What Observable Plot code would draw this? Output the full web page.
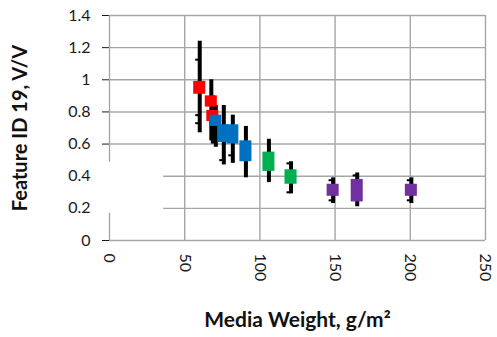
<!DOCTYPE html>
<html>
<head>
<meta charset="utf-8">
<script src="https://cdn.jsdelivr.net/npm/d3@7"></script>
<script src="https://cdn.jsdelivr.net/npm/@observablehq/plot@0.6"></script>
<style>
  html, body { margin: 0; padding: 0; background: #fff; }
  svg { display: block; }
</style>
</head>
<body>
<div id="chart"></div>
<script>
// Media weight (g/m²) of each sample group
const weights   = [60, 67.7, 68.7, 70.7, 76, 82, 90.7, 106, 120.7, 148.7, 164.7, 200.7];
const groups    = ["G1","G1","G1","G2","G2","G2","G2","G3","G3","G4","G4","G4"];
// Coloured box range (V/V)
const boxLow    = [0.91, 0.83, 0.74, 0.71, 0.61, 0.60, 0.49, 0.43, 0.35, 0.275, 0.24, 0.275];
const boxHigh   = [0.99, 0.90, 0.81, 0.78, 0.72, 0.72, 0.62, 0.55, 0.44, 0.35, 0.38, 0.35];
// Black whisker range (V/V)
const lineLow   = [0.67, 0.62, 0.60, 0.58, 0.47, 0.48, 0.39, 0.36, 0.29, 0.23, 0.21, 0.23];
const lineHigh  = [1.24, 1.00, 0.90, 0.84, 0.84, 0.78, 0.71, 0.63, 0.49, 0.39, 0.42, 0.39];
// small marks beside the whiskers (individual readings)
const markWeights = [60, 60, 60, 76, 82, 120.7, 120.7, 148.7, 148.7, 164.7, 200.7, 200.7];
const markValues  = [1.125, 0.78, 0.73, 0.5, 0.53, 0.48, 0.30, 0.375, 0.25, 0.405, 0.375, 0.25];

const xTicks = [0, 50, 100, 150, 200, 250];
const yTicks = [0, 0.2, 0.4, 0.6, 0.8, 1, 1.2, 1.4];
const groupNames  = ["G1", "G2", "G3", "G4"];
const groupColors = ["#ff0000", "#0070c0", "#00b050", "#7030a0"];
// white patch that hides part of the axis in the original figure
const mask = [{x1: -6, x2: 36, y1: 0.17, y2: 0.487}];

const data = weights.map((w, i) => ({
  w, g: groups[i], bl: boxLow[i], bh: boxHigh[i], ll: lineLow[i], lh: lineHigh[i]
}));
const marksData = markWeights.map((w, i) => ({w, v: markValues[i]}));

const grey = "#a6a6a6";
const font = "Lato, 'Open Sans', sans-serif";

const chart = Plot.plot({
  width: 497,
  height: 337,
  marginLeft: 109,
  marginRight: 12,
  marginTop: 15,
  marginBottom: 97,
  style: {fontFamily: font, fontSize: "16px", color: "#1a1a1a", background: "#fff"},
  x: {domain: [0, 250], ticks: xTicks, tickRotate: 90, tickSize: 0, tickPadding: 13, label: null, tickFormat: d => String(d)},
  y: {domain: [0, 1.4], ticks: yTicks, tickSize: 7, tickPadding: 12, label: null, tickFormat: d => String(d)},
  color: {domain: groupNames, range: groupColors},
  marks: [
    Plot.ruleY(yTicks, {stroke: grey, strokeWidth: 1.4}),
    Plot.ruleX(xTicks, {stroke: grey, strokeWidth: 1.4}),
    Plot.rect(mask, {x1: "x1", x2: "x2", y1: "y1", y2: "y2", fill: "#fff", clip: false}),
    Plot.ruleX(data, {x: "w", y1: "ll", y2: "lh", stroke: "#000", strokeWidth: 4}),
    Plot.ruleY(marksData, {y: "v", x1: d => d.w - 2.7, x2: d => d.w, stroke: "#000", strokeWidth: 2}),
    Plot.rect(data, {x1: d => d.w - 4, x2: d => d.w + 4, y1: "bl", y2: "bh", fill: "g"}),
    Plot.text(["Media Weight, g/m²"], {frameAnchor: "bottom", dy: 86, fontWeight: "bold", fontSize: 21, fill: "#111"}),
    Plot.text(["Feature ID 19, V/V"], {frameAnchor: "left", textAnchor: "middle", dx: -89, rotate: -90, fontWeight: "bold", fontSize: 20, fill: "#111"})
  ]
});
document.getElementById("chart").appendChild(chart);
</script>
</body>
</html>
